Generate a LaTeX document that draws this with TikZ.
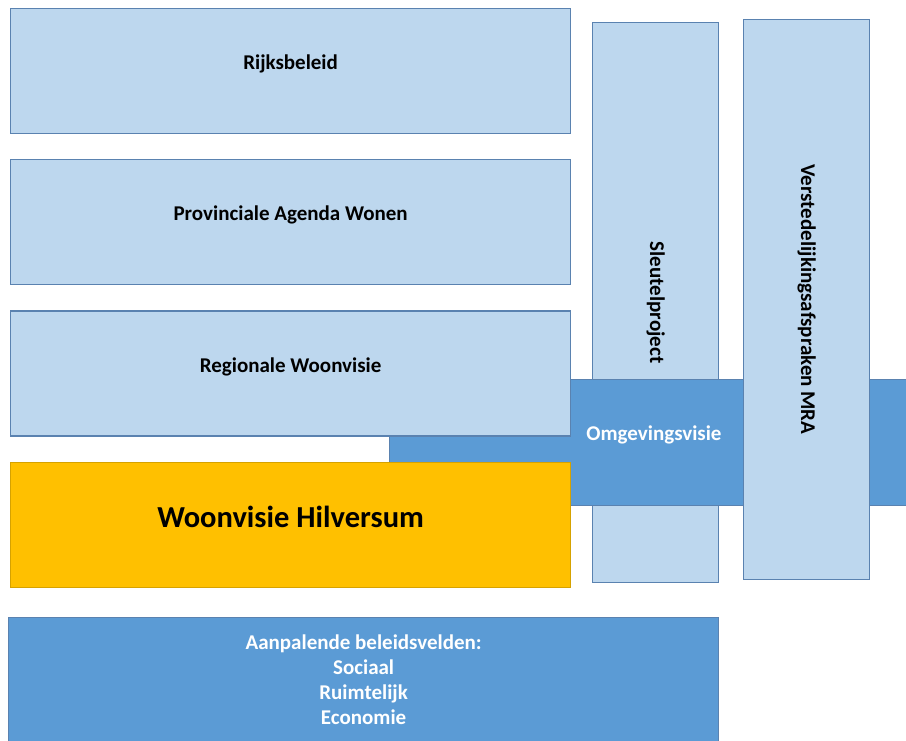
\documentclass[tikz,border=0pt]{standalone}
\usepackage{fontspec}
\setmainfont{Carlito}
\usepackage{tikz}
\usetikzlibrary{positioning, backgrounds}
\definecolor{lichtblauw}{HTML}{BDD7EE}
\definecolor{middenblauw}{HTML}{5B9BD5}
\definecolor{randblauw}{HTML}{5A82B0}
\definecolor{oranje}{HTML}{FFC000}
\definecolor{randoranje}{HTML}{D6A200}
\tikzset{
  beleidbox/.style={rectangle, draw=randblauw, fill=lichtblauw, line width=1.2pt, minimum width=560pt, minimum height=125pt, inner sep=0pt, anchor=north west},
  kolombox/.style={rectangle, draw=randblauw, fill=lichtblauw, line width=1.2pt, minimum width=126pt, minimum height=560pt, inner sep=0pt, anchor=north west},
  bandbox/.style={rectangle, draw=randblauw, fill=middenblauw, line width=1.2pt, inner sep=0pt, anchor=north west},
  boxtekst/.style={font=\fontsize{21}{25}\selectfont\bfseries, text=black, inner sep=0pt},
  kolomtekst/.style={boxtekst, rotate=-90},
  wittetekst/.style={boxtekst, text=white, align=center},
}

\begin{document}
\begin{tikzpicture}[x=1pt, y=-1pt]
  \useasboundingbox (0,0) rectangle (906,741);

  % Sleutelproject ligt onder de omgevingsvisie
  \begin{scope}[on background layer]
    \node[kolombox] (sleutel) at (592,22) {};
    \node[bandbox, minimum width=530pt, minimum height=126pt] (omgeving) at (389,379) {};
  \end{scope}
  \node[kolomtekst] (sleuteltekst) at (sleutel.center) {Sleutelproject};
  \node[wittetekst] (omgevingtekst) at (654,435) {Omgevingsvisie};

  % Beleidskader, van rijk naar gemeente
  \node[beleidbox] (rijk) at (10,8) {};
  \node[boxtekst] (rijktekst) at ([yshift=7pt]rijk.center) {Rijksbeleid};

  \node[beleidbox, below=25pt of rijk] (provincie) {};
  \node[boxtekst] (provincietekst) at ([yshift=7pt]provincie.center) {Provinciale Agenda Wonen};

  \node[beleidbox, below=25pt of provincie] (regio) {};
  \node[boxtekst] (regiotekst) at ([yshift=7pt]regio.center) {Regionale Woonvisie};

  \node[beleidbox, draw=randoranje, fill=oranje, below=25pt of regio] (woon) {};
  \node[boxtekst, font=\fontsize{30.5}{36}\selectfont\bfseries] (woontekst) at ([yshift=8pt]woon.center) {Woonvisie Hilversum};

  % Verstedelijkingsafspraken over de omgevingsvisie heen
  \node[kolombox] (mra) at (743,19) {};
  \node[kolomtekst] (mratekst) at (mra.center) {Verstedelijkingsafspraken MRA};

  % Aanpalende beleidsvelden onderaan
  \node[bandbox, wittetekst, minimum width=710pt, minimum height=125pt] (aanpalend) at (8,617)
    {Aanpalende beleidsvelden:\\Sociaal\\Ruimtelijk\\Economie};
\end{tikzpicture}
\end{document}
